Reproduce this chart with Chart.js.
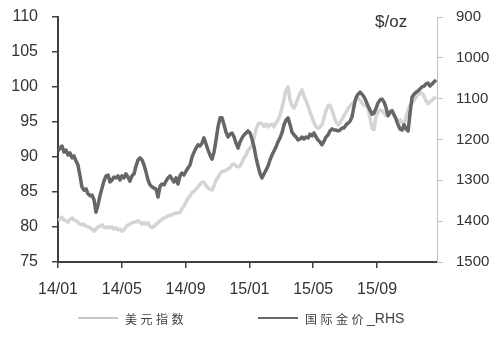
<!DOCTYPE html>
<html>
<head>
<meta charset="utf-8">
<script src="https://cdn.jsdelivr.net/npm/chart.js@4.4.1/dist/chart.umd.min.js"></script>
<style>
    html, body { margin: 0; padding: 0; background: #fff; }
    #wrap { position: relative; width: 500px; height: 337px; }
    .legend-item { position: absolute; top: 310px; height: 16px; display: flex; align-items: center;
        font: 12px "Noto Sans CJK SC", sans-serif; color: #404040; }
    .legend-item i { display: inline-block; width: 40px; height: 2px; margin-right: 7px; }
    .legend-item span { letter-spacing: 3.5px; }
    .legend-item .latin { letter-spacing: 0; font: 14px "Liberation Sans", Arial, sans-serif; }
</style>
</head>
<body>
<div id="wrap">
    <canvas id="chart" width="500" height="337"></canvas>
    <div class="legend-item" style="left:78px"><i style="background:#c8c8c8"></i><span>美元指数</span></div>
    <div class="legend-item" style="left:258px"><i style="background:#666"></i><span>国际金价</span><span class="latin">_RHS</span></div>
</div>
<script>
// x axis in months since 2014/01
const tickMonths = [0, 4, 8, 12, 16, 20];
const tickLabels = ['14/01', '14/05', '14/09', '15/01', '15/05', '15/09'];

// sample dates (months since 2014/01), shared by both series
const sampleMonths = [
    0.00, 0.13, 0.25, 0.38, 0.50, 0.63, 0.75, 0.88, 1.00, 1.13,
    1.25, 1.38, 1.50, 1.63, 1.76, 1.88, 2.01, 2.13, 2.26, 2.38,
    2.51, 2.63, 2.76, 2.88, 3.01, 3.14, 3.26, 3.39, 3.51, 3.64,
    3.76, 3.89, 4.01, 4.14, 4.26, 4.39, 4.51, 4.64, 4.77, 4.89,
    5.02, 5.14, 5.27, 5.39, 5.52, 5.64, 5.77, 5.89, 6.02, 6.14,
    6.27, 6.40, 6.52, 6.65, 6.77, 6.90, 7.02, 7.15, 7.27, 7.40,
    7.52, 7.65, 7.77, 7.90, 8.03, 8.15, 8.28, 8.40, 8.53, 8.65,
    8.78, 8.90, 9.03, 9.15, 9.28, 9.41, 9.53, 9.66, 9.78, 9.91,
    10.03, 10.16, 10.28, 10.41, 10.53, 10.66, 10.78, 10.91, 11.04, 11.16,
    11.29, 11.41, 11.54, 11.66, 11.79, 11.91, 12.04, 12.16, 12.29, 12.41,
    12.54, 12.67, 12.79, 12.92, 13.04, 13.17, 13.29, 13.42, 13.54, 13.67,
    13.79, 13.92, 14.04, 14.17, 14.30, 14.42, 14.55, 14.67, 14.80, 14.92,
    15.05, 15.17, 15.30, 15.42, 15.55, 15.68, 15.80, 15.93, 16.05, 16.18,
    16.30, 16.43, 16.55, 16.68, 16.80, 16.93, 17.05, 17.18, 17.31, 17.43,
    17.56, 17.68, 17.81, 17.93, 18.06, 18.18, 18.31, 18.43, 18.56, 18.68,
    18.81, 18.94, 19.06, 19.19, 19.31, 19.44, 19.56, 19.69, 19.81, 19.94,
    20.06, 20.19, 20.31, 20.44, 20.57, 20.69, 20.82, 20.94, 21.07, 21.19,
    21.32, 21.44, 21.57, 21.69, 21.82, 21.95, 22.07, 22.20, 22.32, 22.45,
    22.57, 22.70, 22.82, 22.95, 23.07, 23.20, 23.32, 23.45, 23.57, 23.70,
];

// 美元指数 (left axis)
const usdValues = [
    81.0, 81.1, 81.4, 81.0, 80.9, 80.7, 81.1, 81.3, 81.0, 80.9,
    80.7, 80.4, 80.3, 80.4, 80.1, 80.0, 79.9, 79.7, 79.4, 79.7,
    80.0, 80.1, 80.3, 80.0, 79.9, 80.0, 79.9, 80.0, 79.7, 79.9,
    79.6, 79.7, 79.4, 79.6, 80.0, 80.3, 80.4, 80.6, 80.7, 80.7,
    80.9, 80.7, 80.4, 80.6, 80.4, 80.6, 80.1, 79.9, 80.1, 80.4,
    80.6, 80.9, 81.1, 81.3, 81.4, 81.6, 81.7, 81.7, 81.9, 82.0,
    82.0, 82.1, 82.6, 83.0, 83.6, 84.1, 84.4, 84.9, 85.1, 85.4,
    85.7, 86.1, 86.4, 86.4, 85.9, 85.6, 85.4, 85.3, 85.9, 86.7,
    87.1, 87.6, 87.9, 88.0, 88.1, 88.3, 88.4, 88.9, 89.0, 88.7,
    88.6, 88.7, 89.3, 89.9, 90.3, 90.9, 91.3, 91.6, 92.7, 93.9,
    94.7, 94.9, 94.7, 94.4, 94.7, 94.3, 94.6, 94.7, 94.3, 94.9,
    95.3, 95.9, 97.0, 98.3, 99.6, 100.0, 98.1, 97.3, 97.0, 97.6,
    98.4, 99.1, 99.6, 98.7, 98.0, 97.3, 96.4, 95.6, 94.9, 94.3,
    94.1, 94.3, 94.6, 95.6, 96.6, 97.3, 97.4, 96.7, 95.7, 95.0,
    94.6, 94.9, 95.4, 95.9, 96.4, 96.9, 97.3, 97.6, 97.9, 98.3,
    98.4, 98.1, 97.7, 97.4, 97.3, 96.9, 95.6, 94.1, 93.9, 95.9,
    96.4, 96.7, 96.6, 96.3, 95.9, 96.0, 96.6, 96.7, 96.1, 95.6,
    95.1, 95.3, 94.9, 94.7, 95.7, 96.7, 97.4, 97.7, 98.1, 98.6,
    98.9, 99.1, 99.1, 98.7, 98.0, 97.6, 97.9, 98.1, 98.4, 98.6,
];

// 国际金价_RHS ($/oz, right axis, reversed)
const goldValues = [
    1228, 1221, 1216, 1231, 1226, 1238, 1233, 1245, 1240, 1253,
    1262, 1289, 1316, 1324, 1321, 1333, 1338, 1336, 1348, 1378,
    1360, 1338, 1319, 1302, 1289, 1287, 1304, 1299, 1292, 1294,
    1289, 1299, 1289, 1294, 1284, 1292, 1302, 1289, 1284, 1265,
    1250, 1245, 1250, 1262, 1280, 1299, 1311, 1316, 1319, 1321,
    1341, 1314, 1309, 1311, 1302, 1294, 1289, 1297, 1304, 1294,
    1309, 1289, 1282, 1287, 1277, 1270, 1262, 1243, 1231, 1221,
    1213, 1216, 1209, 1196, 1211, 1226, 1238, 1248, 1231, 1201,
    1169, 1147, 1147, 1164, 1182, 1194, 1187, 1184, 1194, 1209,
    1221, 1206, 1196, 1189, 1184, 1179, 1184, 1199, 1218, 1243,
    1265, 1284, 1294, 1284, 1275, 1265, 1250, 1238, 1228, 1218,
    1206, 1196, 1184, 1164, 1152, 1147, 1164, 1182, 1189, 1194,
    1201, 1199, 1194, 1199, 1194, 1196, 1187, 1191, 1184, 1194,
    1201, 1206, 1213, 1204, 1194, 1189, 1179, 1174, 1177, 1177,
    1179, 1177, 1172, 1172, 1164, 1160, 1155, 1145, 1118, 1098,
    1089, 1084, 1089, 1096, 1106, 1118, 1128, 1138, 1135, 1123,
    1111, 1103, 1101, 1108, 1123, 1142, 1133, 1130, 1140, 1150,
    1164, 1174, 1177, 1164, 1174, 1179, 1135, 1096, 1089, 1084,
    1081, 1076, 1071, 1069, 1064, 1062, 1069, 1064, 1059, 1054,
];

const axisColor = '#404040';
const textColor = '#333';
const tickFont = '"Liberation Sans", Arial, sans-serif';

// drop the automatic label overhang so layout.padding sets the plot edges
function noOverhang(scale) {
    scale.paddingTop = 0;
    scale.paddingBottom = 0;
    scale.paddingLeft = 0;
    scale.paddingRight = 0;
}

const unitLabel = {
    id: 'unitLabel',
    afterDraw(chart) {
        const { ctx, chartArea } = chart;
        ctx.save();
        ctx.font = '17px ' + tickFont;
        ctx.fillStyle = textColor;
        ctx.textBaseline = 'middle';
        ctx.fillText('$/oz', chartArea.right - 62, 22);
        ctx.restore();
    },
};

new Chart(document.getElementById('chart'), {
    type: 'line',
    data: {
        datasets: [
            {
                label: '美元指数',
                data: sampleMonths.map((m, i) => ({ x: m, y: usdValues[i] })),
                yAxisID: 'y',
                borderColor: '#d4d4d4',
                borderWidth: 3.5,
                order: 1,
            },
            {
                label: '国际金价_RHS',
                data: sampleMonths.map((m, i) => ({ x: m, y: goldValues[i] })),
                yAxisID: 'y2',
                borderColor: '#666',
                borderWidth: 3.5,
                order: 0,
            },
        ],
    },
    options: {
        responsive: false,
        animation: false,
        events: [],
        layout: { padding: { top: 17, left: 0, right: 0, bottom: 0 } },
        elements: { point: { radius: 0 }, line: { tension: 0, borderJoinStyle: 'round' } },
        plugins: {
            legend: { display: false },
            tooltip: { enabled: false },
        },
        scales: {
            x: {
                type: 'linear',
                min: 0,
                max: 23.76,
                afterBuildTicks: (scale) => { scale.ticks = tickMonths.map((v) => ({ value: v })); },
                afterFit: (scale) => { scale.height = 75; noOverhang(scale); },
                ticks: {
                    autoSkip: false,
                    maxRotation: 0,
                    padding: 12,
                    color: textColor,
                    font: { family: tickFont, size: 16 },
                    callback: (v) => tickLabels[tickMonths.indexOf(v)] ?? '',
                },
                grid: { drawOnChartArea: false, tickLength: 6, color: axisColor, lineWidth: 1.5 },
                border: { color: axisColor, width: 2 },
            },
            y: {
                position: 'left',
                min: 75,
                max: 110,
                afterFit: (scale) => { scale.width = 58; noOverhang(scale); },
                ticks: {
                    stepSize: 5,
                    padding: 14,
                    color: textColor,
                    font: { family: tickFont, size: 16 },
                },
                grid: { drawOnChartArea: false, tickLength: 6, color: axisColor, lineWidth: 1.5 },
                border: { color: axisColor, width: 2 },
            },
            y2: {
                position: 'right',
                reverse: true,
                min: 900,
                max: 1500,
                afterFit: (scale) => { scale.width = 63; noOverhang(scale); },
                ticks: {
                    stepSize: 100,
                    padding: 13,
                    color: textColor,
                    font: { family: tickFont, size: 15 },
                    callback: (v) => String(v),
                },
                grid: { drawOnChartArea: false, tickLength: 6, color: '#c0c0c0', lineWidth: 1 },
                border: { color: '#c0c0c0', width: 1 },
            },
        },
    },
    plugins: [unitLabel],
});
</script>
</body>
</html>
